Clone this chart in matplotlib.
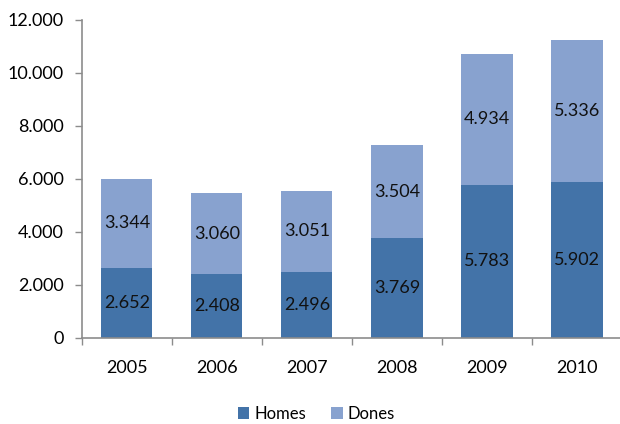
import numpy as np
import matplotlib.pyplot as plt
from matplotlib.ticker import FuncFormatter

years = ["2005", "2006", "2007", "2008", "2009", "2010"]
homes = [2652, 2408, 2496, 3769, 5783, 5902]
dones = [3344, 3060, 3051, 3504, 4934, 5336]

c_homes = "#4373A8"
c_dones = "#88A2CF"
axis_col = "#8C8C8C"

plt.rcParams['font.family'] = ['Lato', 'DejaVu Sans']

def fmt_thousands(v, pos=None):
    # 12000 -> 12.000
    return f"{int(round(v)):,}".replace(",", ".")

fig = plt.figure(figsize=(6.2, 4.24), dpi=100)
ax = fig.add_axes([0.132, 0.203, 0.871, 0.750])

x = np.arange(len(years))
w = 0.57
b1 = ax.bar(x, homes, w, color=c_homes, label="Homes", zorder=2)
b2 = ax.bar(x, dones, w, bottom=homes, color=c_dones, label="Dones", zorder=2)

for xi, h, d in zip(x, homes, dones):
    ax.text(xi, h / 2, fmt_thousands(h), ha="center", va="center", fontsize=13, color="#111111")
    ax.text(xi, h + d / 2, fmt_thousands(d), ha="center", va="center", fontsize=13, color="#111111")

ax.set_xlim(-0.5, len(years) - 0.5)
ax.set_ylim(0, 12000)
ax.set_yticks(np.arange(0, 12001, 2000))
ax.yaxis.set_major_formatter(FuncFormatter(fmt_thousands))

# category labels between boundary ticks
ax.set_xticks(np.arange(-0.5, len(years), 1.0))
ax.set_xticklabels([])
ax.set_xticks(x, minor=True)
ax.set_xticklabels(years, minor=True)
ax.tick_params(axis="x", which="minor", length=0, pad=16, labelsize=13)
ax.tick_params(axis="x", which="major", length=5, color=axis_col, width=1)
ax.tick_params(axis="y", length=5, color=axis_col, width=1, labelsize=13, pad=8)

for s in ["top", "right"]:
    ax.spines[s].set_visible(False)
for s in ["left", "bottom"]:
    ax.spines[s].set_color(axis_col)
    ax.spines[s].set_linewidth(1.2)

fig.legend(handles=[b1, b2], labels=["Homes", "Dones"], loc="center",
           bbox_to_anchor=(0.51, 0.024), ncol=2, frameon=False, fontsize=12,
           handlelength=0.7, handleheight=0.7, handletextpad=0.3, columnspacing=1.5)

fig.savefig("out.png", dpi=100)
